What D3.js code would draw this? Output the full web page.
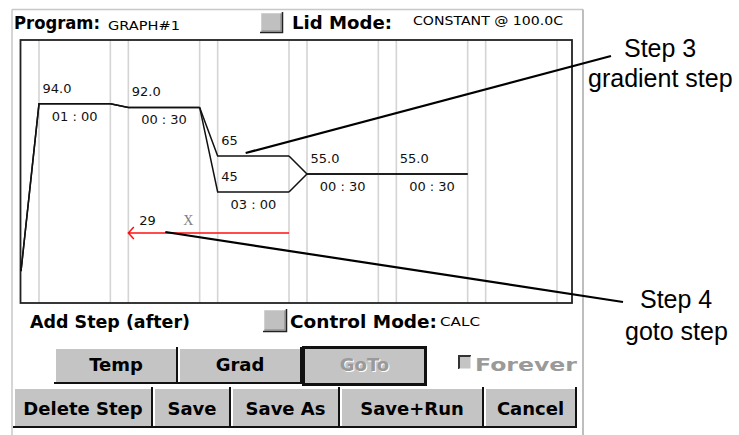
<!DOCTYPE html>
<html><head><meta charset="utf-8">
<script src="https://cdn.jsdelivr.net/npm/d3@7/dist/d3.min.js"></script>
<style>html,body{margin:0;padding:0;background:#fff}svg{display:block}</style>
</head><body>
<svg id="c" width="739" height="435"></svg>
<script>
// ---- data ----
const stepHigh   = [94.0, 92.0, 65, 55.0, 55.0];
const stepLow    = [94.0, 92.0, 45, 55.0, 55.0];
const highLabels = ["94.0", "92.0", "65", "55.0", "55.0"];
const lowLabels  = ["", "", "45", "", ""];
const holdTimes  = ["01 : 00", "00 : 30", "03 : 00", "00 : 30", "00 : 30"];
const startTemp  = 1;
const slotTicks  = [0, 1, 2, 3, 4, 5, 6];
const gotoCount  = "29";
const gotoFromSlot = 3;
const gotoToStep   = 1;
const rowOneButtons = ["Temp", "Grad", "GoTo"];
const rowTwoButtons = ["Delete Step", "Save", "Save As", "Save+Run", "Cancel"];
const calloutOne = ["Step 3", "gradient step"];
const calloutTwo = ["Step 4", "goto step"];

// ---- layout ----
const svg = d3.select("#c");
const x = d3.scaleLinear().domain([0, 6]).range([21, 557]);
const y = d3.scaleLinear().domain([0, 100]).range([273, 93]);
const ramp = 18;
const frame = {l: 20.5, t: 40, r: 572, b: 303};
const small = "'DejaVu Sans', sans-serif";
const bold = "'DejaVu Sans', sans-serif";

// window borders
svg.append("line").attr("x1", 12).attr("x2", 583).attr("y1", 9.5).attr("y2", 9.5).attr("stroke", "#c8c8c8").attr("stroke-width", 1.5);
svg.append("line").attr("x1", 12).attr("x2", 12).attr("y1", 9.5).attr("y2", 435).attr("stroke", "#c8c8c8").attr("stroke-width", 1.5);
svg.append("line").attr("x1", 583).attr("x2", 583).attr("y1", 9.5).attr("y2", 435).attr("stroke", "#a8a8a8").attr("stroke-width", 1.5);

// header
function raisedBox(x0, y0, w, h) {
  const g = svg.append("g");
  g.append("rect").attr("x", x0).attr("y", y0).attr("width", w).attr("height", h).attr("fill", "#c0c0c0");
  g.append("path").attr("d", `M${x0+0.5},${y0+h}V${y0+0.5}H${x0+w}`).attr("stroke", "#fff").attr("stroke-width", 1.5).attr("fill", "none");
  g.append("path").attr("d", `M${x0},${y0+h-0.5}H${x0+w-0.5}V${y0}`).attr("stroke", "#222").attr("stroke-width", 1.5).attr("fill", "none");
  g.append("path").attr("d", `M${x0+1.5},${y0+h-2}H${x0+w-2}V${y0+1.5}`).attr("stroke", "#808080").attr("stroke-width", 1).attr("fill", "none");
}
svg.append("text").attr("x", 14).attr("y", 29).attr("font-family", bold).attr("font-weight", "bold").attr("font-size", 17)
  .attr("textLength", 86).attr("lengthAdjust", "spacingAndGlyphs").text("Program:");
svg.append("text").attr("x", 108).attr("y", 30).attr("font-family", small).attr("font-size", 12)
  .attr("textLength", 72).attr("lengthAdjust", "spacingAndGlyphs").text("GRAPH#1");
raisedBox(260, 12, 23, 21);
svg.append("text").attr("x", 292).attr("y", 29).attr("font-family", bold).attr("font-weight", "bold").attr("font-size", 17)
  .attr("textLength", 100).attr("lengthAdjust", "spacingAndGlyphs").text("Lid Mode:");
svg.append("text").attr("x", 413).attr("y", 25).attr("font-family", small).attr("font-size", 12)
  .attr("textLength", 150).attr("lengthAdjust", "spacingAndGlyphs").text("CONSTANT @ 100.0C");

// gridlines
const gridXs = [];
slotTicks.forEach(i => { if (i > 0) gridXs.push(x(i)); if (i < 6) gridXs.push(x(i) + ramp); });
svg.append("g").selectAll("line").data(gridXs).join("line")
  .attr("x1", d => d).attr("x2", d => d).attr("y1", frame.t).attr("y2", frame.b)
  .attr("stroke", "#d4d4d4").attr("stroke-width", 1.6);

// frame
svg.append("rect").attr("x", frame.l).attr("y", frame.t).attr("width", frame.r - frame.l).attr("height", frame.b - frame.t)
  .attr("fill", "none").attr("stroke", "#222").attr("stroke-width", 1.8);

// profile lines
const line = d3.line();
const plot = svg.append("g").attr("fill", "none").attr("stroke", "#111").attr("stroke-width", 1.5);
stepHigh.forEach((t, i) => {
  const prevHi = i === 0 ? startTemp : stepHigh[i - 1];
  const prevLo = i === 0 ? startTemp : stepLow[i - 1];
  plot.append("path").attr("d", line([[x(i), y(prevHi)], [x(i) + ramp, y(t)], [x(i + 1), y(t)]]));
  plot.append("path").attr("d", line([[x(i), y(prevLo)], [x(i) + ramp, y(stepLow[i])], [x(i + 1), y(stepLow[i])]]));
});

// step labels
const lab = svg.append("g").attr("font-family", small).attr("font-size", 13).attr("fill", "#111");
stepHigh.forEach((t, i) => {
  lab.append("text").attr("x", x(i) + ramp + 3.5).attr("y", y(t) - 11).text(highLabels[i]);
  if (lowLabels[i]) lab.append("text").attr("x", x(i) + ramp + 3.5).attr("y", y(stepLow[i]) - 11).text(lowLabels[i]);
  lab.append("text").attr("x", (x(i) + ramp + x(i + 1)) / 2).attr("y", y(stepLow[i]) + 17)
    .attr("text-anchor", "middle").text(holdTimes[i]);
});

// goto arrow
const arrowY = 233;
const ax0 = x(gotoFromSlot), ax1 = x(gotoToStep) + ramp;
svg.append("path").attr("d", `M${ax0},${arrowY}H${ax1}M${ax1+5.5},${arrowY-6}L${ax1},${arrowY}L${ax1+5.5},${arrowY+6}`)
  .attr("fill", "none").attr("stroke", "#ff1010").attr("stroke-width", 1.5);
lab.append("text").attr("x", ax1 + 11).attr("y", arrowY - 8).text(gotoCount);
svg.append("text").attr("x", ax1 + 55).attr("y", arrowY - 8).attr("font-family", "'Liberation Serif', serif")
  .attr("font-size", 14).attr("fill", "#808080").text("X");

// callouts
const callFont = "'Liberation Sans', Arial, sans-serif";
svg.append("line").attr("x1", x(2) + ramp + 28).attr("y1", y(stepHigh[2]) - 3).attr("x2", 611).attr("y2", 56)
  .attr("stroke", "#000").attr("stroke-width", 2.2);
svg.append("line").attr("x1", ax1 + 37).attr("y1", arrowY - 1).attr("x2", 623).attr("y2", 302)
  .attr("stroke", "#000").attr("stroke-width", 2.2);
svg.append("text").attr("x", 624).attr("y", 57).attr("font-family", callFont).attr("font-size", 25).text(calloutOne[0]);
svg.append("text").attr("x", 588).attr("y", 87).attr("font-family", callFont).attr("font-size", 25).text(calloutOne[1]);
svg.append("text").attr("x", 640).attr("y", 308).attr("font-family", callFont).attr("font-size", 25).text(calloutTwo[0]);
svg.append("text").attr("x", 625).attr("y", 340).attr("font-family", callFont).attr("font-size", 25).text(calloutTwo[1]);

// lower controls
svg.append("text").attr("x", 30).attr("y", 328).attr("font-family", bold).attr("font-weight", "bold").attr("font-size", 17)
  .attr("textLength", 160).attr("lengthAdjust", "spacingAndGlyphs").text("Add Step (after)");
raisedBox(263, 309, 24, 23);
svg.append("text").attr("x", 290).attr("y", 328).attr("font-family", bold).attr("font-weight", "bold").attr("font-size", 17)
  .attr("textLength", 147).attr("lengthAdjust", "spacingAndGlyphs").text("Control Mode:");
svg.append("text").attr("x", 440).attr("y", 326).attr("font-family", small).attr("font-size", 12)
  .attr("textLength", 40).attr("lengthAdjust", "spacingAndGlyphs").text("CALC");

function button(x0, x1, y0, y1, label, opts = {}) {
  const g = svg.append("g");
  g.append("rect").attr("x", x0).attr("y", y0).attr("width", x1 - x0).attr("height", y1 - y0).attr("fill", "#c4c4c4");
  g.append("path").attr("d", `M${x0+1},${y1}V${y0+1}H${x1}`).attr("stroke", "#fff").attr("stroke-width", 2).attr("fill", "none");
  g.append("path").attr("d", `M${x0},${y1-1}H${x1-1}V${y0}`).attr("stroke", "#111").attr("stroke-width", 2).attr("fill", "none");
  if (opts.focus) {
    g.append("rect").attr("x", x0 + 1.5).attr("y", y0 + 1.5).attr("width", x1 - x0 - 3).attr("height", y1 - y0 - 3)
      .attr("fill", "none").attr("stroke", "#111").attr("stroke-width", 3);
  }
  const cx = (x0 + x1) / 2, by = opts.base;
  if (opts.disabled) {
    g.append("text").attr("x", cx + 1).attr("y", by + 1).attr("text-anchor", "middle").attr("font-family", bold)
      .attr("font-weight", "bold").attr("font-size", 18).attr("fill", "#fff").text(label);
    g.append("text").attr("x", cx).attr("y", by).attr("text-anchor", "middle").attr("font-family", bold)
      .attr("font-weight", "bold").attr("font-size", 18).attr("fill", "#9a9a9a").text(label);
  } else {
    g.append("text").attr("x", cx).attr("y", by).attr("text-anchor", "middle").attr("font-family", bold)
      .attr("font-weight", "bold").attr("font-size", 18).attr("fill", "#000").text(label);
  }
}
const row1 = [54, 178, 302, 427];
rowOneButtons.forEach((b, i) => {
  if (i === 2) button(row1[i], row1[i + 1], 346, 386, b, {base: 371, focus: true, disabled: true});
  else button(row1[i], row1[i + 1], 347, 384, b, {base: 371});
});
const row2 = [13, 153, 231, 340, 484, 577];
rowTwoButtons.forEach((b, i) => button(row2[i], row2[i + 1], 387, 428, b, {base: 415}));

// Forever checkbox
svg.append("rect").attr("x", 458).attr("y", 355).attr("width", 13).attr("height", 14).attr("fill", "#c4c4c4");
svg.append("path").attr("d", "M459,369V356H471").attr("stroke", "#333").attr("stroke-width", 2).attr("fill", "none");
svg.append("path").attr("d", "M459,369H471V356").attr("stroke", "#fff").attr("stroke-width", 1).attr("fill", "none");
svg.append("text").attr("x", 475).attr("y", 371).attr("font-family", bold).attr("font-weight", "bold").attr("font-size", 18)
  .attr("textLength", 102).attr("lengthAdjust", "spacingAndGlyphs").attr("fill", "#9a9a9a").text("Forever");
</script>
</body></html>
